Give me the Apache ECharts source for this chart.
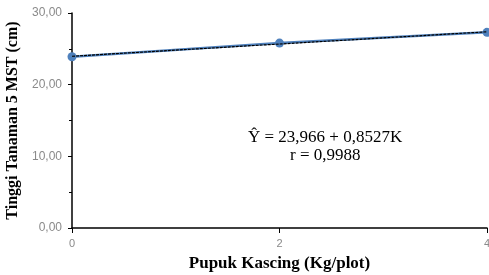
<!DOCTYPE html>
<html>
<head>
<meta charset="utf-8">
<script src="https://cdn.jsdelivr.net/npm/echarts@6/dist/echarts.min.js"></script>
<style>
  html, body { margin: 0; padding: 0; background: #fff; }
  #chart { width: 489px; height: 275px; }
</style>
</head>
<body>
<div id="chart"></div>
<script>
// data
const dosis = [0, 2, 4]
const tinggi = [23.9, 25.8, 27.3]
// trendline from the printed equation
const trend = [23.966, 25.671, 27.377]

const fmt = v => v.toFixed(2).replace('.', ',')

const chart = echarts.init(document.getElementById('chart'))
const option = {
  animation: false,
  grid: { left: 72, right: 2, top: 13, bottom: 47, containLabel: false, outerBoundsMode: 'none' },
  xAxis: {
    type: 'value',
    min: 0,
    max: 4,
    interval: 2,
    name: 'Pupuk Kascing (Kg/plot)',
    nameLocation: 'middle',
    nameGap: 27,
    nameTextStyle: { fontFamily: 'Liberation Serif', fontWeight: 'bold', fontSize: 17, color: '#000' },
    axisLine: { lineStyle: { color: '#000', width: 1.5 } },
    axisTick: { show: true, length: 5, lineStyle: { color: '#000' } },
    axisLabel: { color: '#8a8a8a', fontSize: 11, fontFamily: 'Liberation Sans', margin: 10 },
    splitLine: { show: false }
  },
  yAxis: {
    type: 'value',
    min: 0,
    max: 30,
    interval: 10,
    name: 'Tinggi Tanaman 5 MST (cm)',
    nameLocation: 'middle',
    nameGap: 48,
    nameTextStyle: { fontFamily: 'Liberation Serif', fontWeight: 'bold', fontSize: 16, color: '#000' },
    axisLine: { show: true, lineStyle: { color: '#000', width: 1.5 } },
    axisTick: { show: true, length: 4, lineStyle: { color: '#000' } },
    minorTick: { show: true, splitNumber: 2, length: 3, lineStyle: { color: '#000' } },
    axisLabel: { color: '#8a8a8a', fontSize: 12, fontFamily: 'Liberation Sans', margin: 10, formatter: fmt },
    splitLine: { show: false }
  },
  series: [
    {
      type: 'line',
      data: dosis.map((d, i) => [d, tinggi[i]]),
      symbol: 'circle',
      symbolSize: 9,
      lineStyle: { color: '#4f81bd', width: 2.5 },
      itemStyle: { color: '#4f81bd' },
      z: 2
    },
    {
      type: 'line',
      data: dosis.map((d, i) => [d, trend[i]]),
      symbol: 'none',
      lineStyle: { color: '#000', width: 1.2, type: [3, 1] },
      z: 3
    }
  ],
  graphic: [
    {
      type: 'text',
      left: 248,
      top: 129,
      style: { text: 'Ŷ = 23,966 + 0,8527K', fontFamily: 'Liberation Serif', fontSize: 17, fill: '#000' }
    },
    {
      type: 'text',
      left: 290,
      top: 147,
      style: { text: 'r = 0,9988', fontFamily: 'Liberation Serif', fontSize: 17, fill: '#000' }
    }
  ]
}
chart.setOption(option)
</script>
</body>
</html>
